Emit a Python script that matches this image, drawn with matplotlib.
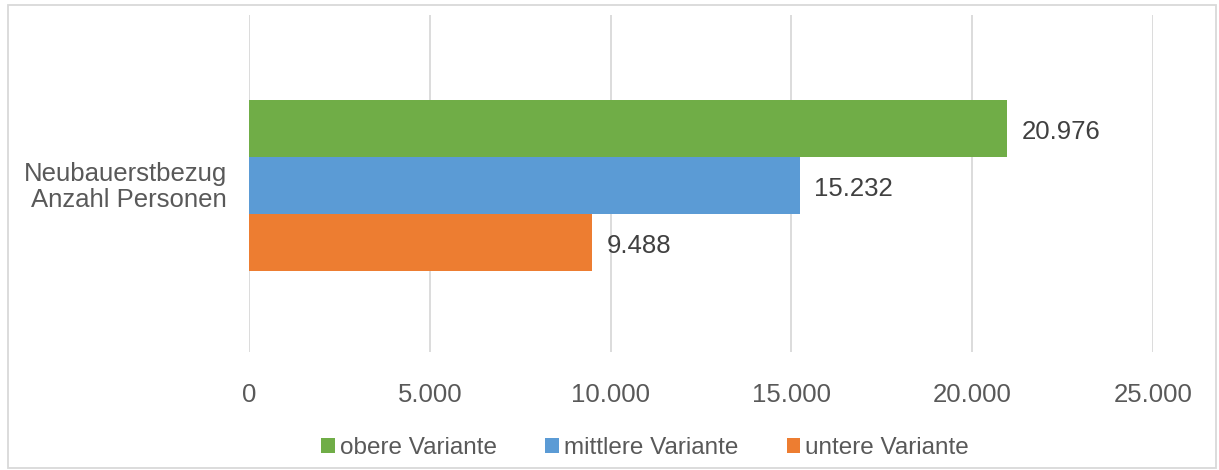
import matplotlib.pyplot as plt
from matplotlib.patches import Rectangle
from matplotlib.ticker import FuncFormatter

category = "Neubauerstbezug\nAnzahl Personen"
series = ["obere Variante", "mittlere Variante", "untere Variante"]
values = [20976, 15232, 9488]
colors = ["#70AD47", "#5B9BD5", "#ED7D31"]
xticks = [0, 5000, 10000, 15000, 20000, 25000]

txt = "#595959"
fs = 18.5
plt.rcParams['font.family'] = ['Liberation Sans', 'DejaVu Sans']

fig = plt.figure(figsize=(12.19, 4.70), dpi=100)
ax = fig.add_axes([249 / 1219, 1 - 352 / 470, 904 / 1219, 337 / 470])

h = 57 / 337
offsets = [h, 0, -h]
for name, v, c, off in zip(series, values, colors, offsets):
    ax.barh(off, v, height=h, color=c, label=name, zorder=3)
    ax.text(v + 400, off - 0.01, f"{v:,}".replace(",", "."), va="center", ha="left",
            fontsize=fs, color="#404040")

ax.set_xlim(0, 25000)
c0 = (185.5 - 15) / 337
ax.set_ylim(c0 - 1, c0)
ax.set_xticks(xticks)
ax.xaxis.set_major_formatter(FuncFormatter(lambda x, p: f"{int(x):,}".replace(",", ".")))
ax.tick_params(axis="x", length=0, pad=22, labelsize=fs, labelcolor=txt)
ax.set_yticks([])
ax.grid(axis="x", color="#D9D9D9", linewidth=1.3, zorder=0)
for s in ax.spines.values():
    s.set_visible(False)

fig.text(227 / 1219, 1 - 187 / 470, category, ha="right", va="center",
         fontsize=fs, color=txt, linespacing=1.1)

leg = fig.legend(loc="center", bbox_to_anchor=(645 / 1219, 1 - 448 / 470), ncol=3,
                 frameon=False, fontsize=17.5, handlelength=0.55, handleheight=0.55,
                 handletextpad=0.2, columnspacing=2.0, labelcolor=txt)

fig.patches.append(Rectangle((8 / 1219, 2 / 470), 1208 / 1219, 463 / 470,
                             transform=fig.transFigure, fill=False,
                             edgecolor="#D9D9D9", linewidth=1.3))

fig.savefig("out.png", dpi=100)
